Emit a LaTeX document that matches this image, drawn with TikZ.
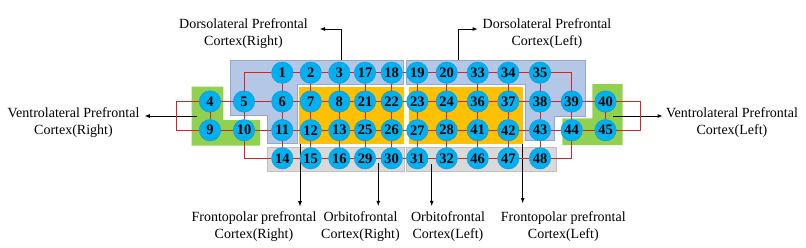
\documentclass[tikz,border=0pt]{standalone}
\usepackage{fontspec}
\setmainfont{Liberation Serif}
\usetikzlibrary{arrows.meta}
\definecolor{bluebg}{HTML}{B4C7E7}
\definecolor{blueln}{HTML}{8FA8D4}
\definecolor{orangebg}{HTML}{FFC000}
\definecolor{greenbg}{HTML}{92D050}
\definecolor{graybg}{HTML}{D9D9D9}
\definecolor{grayln}{HTML}{C0C0C0}
\definecolor{nodefill}{HTML}{00B0F0}
\definecolor{nodeln}{HTML}{0A9AD6}
\definecolor{link}{HTML}{D92222}
\begin{document}
\begin{tikzpicture}[x=1pt,y=-1pt,
  ch/.style={circle, fill=nodefill, draw=nodeln, line width=0.4pt, minimum size=21.5pt, inner sep=0pt, font=\fontsize{14.5}{17}\selectfont\bfseries},
  lnk/.style={draw=link, line width=1pt},
  arr/.style={draw=black, line width=1pt, -{Latex[length=5.5pt,width=4pt]}},
  lbl/.style={align=center, anchor=north, inner sep=0pt, font=\fontsize{14}{17}\selectfont},
  bluereg/.style={fill=bluebg, draw=blueln, line width=0.6pt},
  greenreg/.style={fill=greenbg},
  grayreg/.style={fill=graybg, draw=grayln, line width=0.6pt},
  orangereg/.style={fill=orangebg},
  ]
\fill[white] (0,0) rectangle (806,247);
\useasboundingbox (0,0) rectangle (806,247);

% regions
\path[bluereg] (230.7,60) -- (403.3,60) -- (403.3,84.3) -- (297,84.3) -- (297,143.3) -- (267.3,143.3) -- (267.3,115.7) -- (230.7,115.7) -- cycle;
\path[bluereg] (406.7,60) -- (585.7,60) -- (585.7,116) -- (554,116) -- (554,140.7) -- (525.3,140.7) -- (525.3,84.3) -- (406.7,84.3) -- cycle;
\path[orangereg] (299.3,86.7) rectangle (404,144.3);
\path[orangereg] (409.3,86.7) rectangle (523.3,144.3);
\path[greenreg] (191.7,86.7) -- (223.3,86.7) -- (223.3,120) -- (260,120) -- (260,145.7) -- (191.7,145.7) -- cycle;
\path[greenreg] (592.3,84) -- (622.7,84) -- (622.7,145) -- (562.3,145) -- (562.3,118.3) -- (592.3,118.3) -- cycle;
\path[grayreg] (267.3,147.5) rectangle (404,171);
\path[grayreg] (406.7,147.5) rectangle (556.7,171);

% labels
\node[lbl] (dlr) at (243.5,18.2) {Dorsolateral Prefrontal\\Cortex(Right)};
\node[lbl] (dll) at (547,18.2) {Dorsolateral Prefrontal\\Cortex(Left)};
\node[lbl] (vlr) at (73.5,107.6) {Ventrolateral Prefrontal\\Cortex(Right)};
\node[lbl] (vll) at (732,107.6) {Ventrolateral Prefrontal\\Cortex(Left)};
\node[lbl] (fpr) at (254,211) {Frontopolar prefrontal\\Cortex(Right)};
\node[lbl] (ofr) at (360.5,211) {Orbitofrontal\\Cortex(Right)};
\node[lbl] (ofl) at (448,211) {Orbitofrontal\\Cortex(Left)};
\node[lbl] (fpl) at (563.3,211) {Frontopolar prefrontal\\Cortex(Left)};

% arrow ends
\coordinate (sDR) at (341.5,60);   \coordinate (tDR) at (319.5,29);
\coordinate (sDL) at (458,60);     \coordinate (tDL) at (478,29);
\coordinate (sVR) at (197,116);    \coordinate (tVR) at (144.3,116);
\coordinate (sVL) at (613,116);    \coordinate (tVL) at (663,116);
\coordinate (sFR) at (300,144);    \coordinate (tFR) at (300,206.7);
\coordinate (sOR) at (378.3,163.3);\coordinate (tOR) at (378.3,206.3);
\coordinate (sOL) at (431.7,164.3);\coordinate (tOL) at (431.7,206.3);
\coordinate (sFL) at (522.7,144);  \coordinate (tFL) at (522.7,203.5);
\draw[arr] (sDR) |- (tDR);
\draw[arr] (sDL) |- (tDL);
\draw[arr] (sVR) -- (tVR);
\draw[arr] (sVL) -- (tVL);
\draw[arr] (sFR) -- (tFR);
\draw[arr] (sOR) -- (tOR);
\draw[arr] (sOL) -- (tOL);
\draw[arr] (sFL) -- (tFL);

% nodes
\foreach \n/\x/\y in {
  1/282.3/72.7, 2/310.7/72.7, 3/339.3/72.7, 17/365/72.7, 18/391.7/72.7,
  19/417.3/72.7, 20/446.7/72.7, 33/477.7/72.7, 34/508.3/72.7, 35/540/72.7,
  4/210/101.5, 5/244/101.5, 6/282.3/101.5, 7/310.7/101.5, 8/339.3/101.5,
  21/365/101.5, 22/391.7/101.5, 23/417.3/101.5, 24/446.7/101.5, 36/477.7/101.5,
  37/508.3/101.5, 38/540/101.5, 39/571.7/101.5, 40/605.5/101.5,
  9/210/130.2, 10/244/130.2, 11/282.3/130.2, 12/310.7/130.2, 13/339.3/130.2,
  25/365/130.2, 26/391.7/130.2, 27/417.3/130.2, 28/446.7/130.2, 41/477.7/130.2,
  42/508.3/130.2, 43/540/130.2, 44/571.7/130.2, 45/605.5/130.2,
  14/282.3/158.3, 15/310.7/158.3, 16/339.3/158.3, 29/365/158.3, 30/391.7/158.3,
  31/417.3/158.3, 32/446.7/158.3, 46/477.7/158.3, 47/508.3/158.3, 48/540/158.3}
  \node[ch] (n\n) at (\x,\y) {\n};

% links
\foreach \a/\b in {1/2,2/3,3/17,17/18,18/19,19/20,20/33,33/34,34/35,
  4/5,5/6,6/7,7/8,8/21,21/22,22/23,23/24,24/36,36/37,37/38,38/39,39/40,
  9/10,10/11,11/12,12/13,13/25,25/26,26/27,27/28,28/41,41/42,42/43,43/44,44/45,
  14/15,15/16,16/29,29/30,30/31,31/32,32/46,46/47,47/48,
  4/9,5/10,1/6,6/11,11/14,2/7,7/12,12/15,3/8,8/13,13/16,17/21,21/25,25/29,
  18/22,22/26,26/30,19/23,23/27,27/31,20/24,24/28,28/32,33/36,36/41,41/46,
  34/37,37/42,42/47,35/38,38/43,43/48,39/44,40/45}
  \draw[lnk] (n\a) -- (n\b);
\coordinate (kL) at (176,101.5);
\coordinate (kR) at (640,101.5);
\draw[lnk] (n1) -| (n5);
\draw[lnk] (n10) |- (n14);
\draw[lnk] (n35) -| (n39);
\draw[lnk] (n44) |- (n48);
\draw[lnk] (n4) -- (kL) |- (n9);
\draw[lnk] (n40) -- (kR) |- (n45);
\end{tikzpicture}
\end{document}
